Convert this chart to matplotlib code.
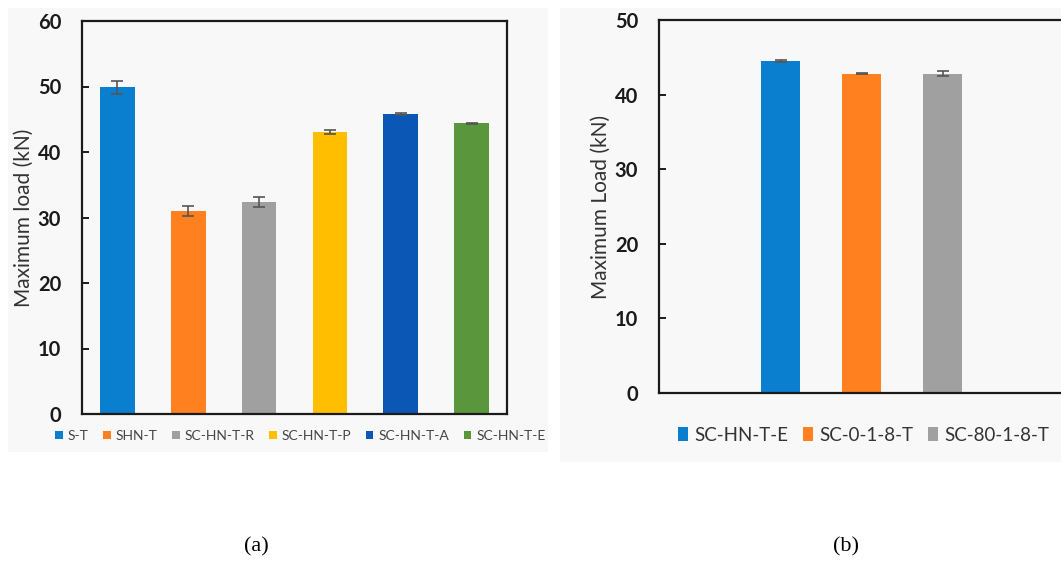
import matplotlib
matplotlib.use("Agg")
import matplotlib.pyplot as plt
from matplotlib.patches import Rectangle

# Panel (a): maximum load per specimen group
groups_a = ["S-T", "SHN-T", "SC-HN-T-R", "SC-HN-T-P", "SC-HN-T-A", "SC-HN-T-E"]
load_a = [49.9, 31.0, 32.4, 43.0, 45.8, 44.4]
err_a = [1.0, 0.7, 0.8, 0.3, 0.1, 0.1]
colors_a = ["#0A7FD0", "#FF801E", "#A0A0A0", "#FFBE00", "#0A57B5", "#5A963C"]
yticks_a = [0, 10, 20, 30, 40, 50, 60]

# Panel (b): maximum load for the E-series variants
groups_b = ["SC-HN-T-E", "SC-0-1-8-T", "SC-80-1-8-T"]
load_b = [44.5, 42.8, 42.8]
err_b = [0.15, 0.1, 0.35]
colors_b = ["#0A7FD0", "#FF801E", "#A0A0A0"]
yticks_b = [0, 10, 20, 30, 40, 50]

W, H = 1061, 563
fig = plt.figure(figsize=(W / 100, H / 100), dpi=100)
fig.patch.set_facecolor("white")

# faint grey panel backgrounds (behind the axes)
for (x0, y0, w, h) in [(8, 452, 540, 444), (560, 462, 501, 454)]:
    fig.add_artist(Rectangle((x0 / W, 1 - y0 / H), w / W, h / H,
                             transform=fig.transFigure, facecolor="#f8f8f8",
                             edgecolor="none", zorder=-5))

label_font = "Lato"


def style_axes(ax, yticks, ylabel):
    ax.set_zorder(2)
    ax.set_facecolor("none")
    ax.set_yticks(yticks)
    ax.set_ylim(yticks[0], yticks[-1])
    ax.set_xticks([])
    for s in ax.spines.values():
        s.set_linewidth(1.6)
        s.set_color("#1a1a1a")
    ax.tick_params(axis="y", direction="in", length=5, width=1.4, pad=15,
                   colors="#1a1a1a")
    for t in ax.get_yticklabels():
        t.set_fontweight("bold")
        t.set_fontsize(14.5)
        t.set_fontfamily(label_font)
    ax.set_ylabel(ylabel, fontsize=15, fontfamily=label_font,
                  color="#333333", labelpad=3)


err_style = dict(ecolor="#555555", elinewidth=1.2, capsize=4.5, capthick=1.2)

# ---- panel (a) ----
ax1 = fig.add_axes([82 / W, 1 - 414 / H, 425 / W, 393 / H])
x_a = list(range(len(groups_a)))
bars_a = ax1.bar(x_a, load_a, width=0.49, color=colors_a,
                 yerr=err_a, error_kw=err_style, zorder=2)
ax1.set_xlim(-0.5, len(groups_a) - 0.5)
style_axes(ax1, yticks_a, "Maximum load (kN)")
ax1.legend(bars_a.patches, groups_a, loc="upper left",
           bbox_to_anchor=(-0.0635, -0.04), ncol=6, frameon=False,
           prop=dict(family=label_font, size=10), handlelength=0.55,
           handleheight=0.55, handletextpad=0.35, columnspacing=1.05,
           borderaxespad=0, borderpad=0, labelcolor="#444444")

# ---- panel (b) ----
ax2 = fig.add_axes([659 / W, 1 - 393 / H, 405 / W, 373 / H])
x_b = [1, 2, 3]
bars_b = ax2.bar(x_b, load_b, width=0.49, color=colors_b,
                 yerr=err_b, error_kw=err_style, zorder=2)
ax2.set_xlim(-0.5, 4.5)
style_axes(ax2, yticks_b, "Maximum Load (kN)")
ax2.legend(bars_b.patches, groups_b, loc="upper left",
           bbox_to_anchor=(0.047, -0.09), ncol=3, frameon=False,
           prop=dict(family=label_font, size=13.5), handlelength=0.55,
           handleheight=0.8, handletextpad=0.3, columnspacing=0.8,
           borderaxespad=0, borderpad=0, labelcolor="#333333")

# captions
fig.text(256 / W, 1 - 547 / H, "(a)", ha="center", va="center",
         fontsize=16, fontfamily="Liberation Serif")
fig.text(846 / W, 1 - 547 / H, "(b)", ha="center", va="center",
         fontsize=16, fontfamily="Liberation Serif")

fig.savefig("out.png", dpi=100)
